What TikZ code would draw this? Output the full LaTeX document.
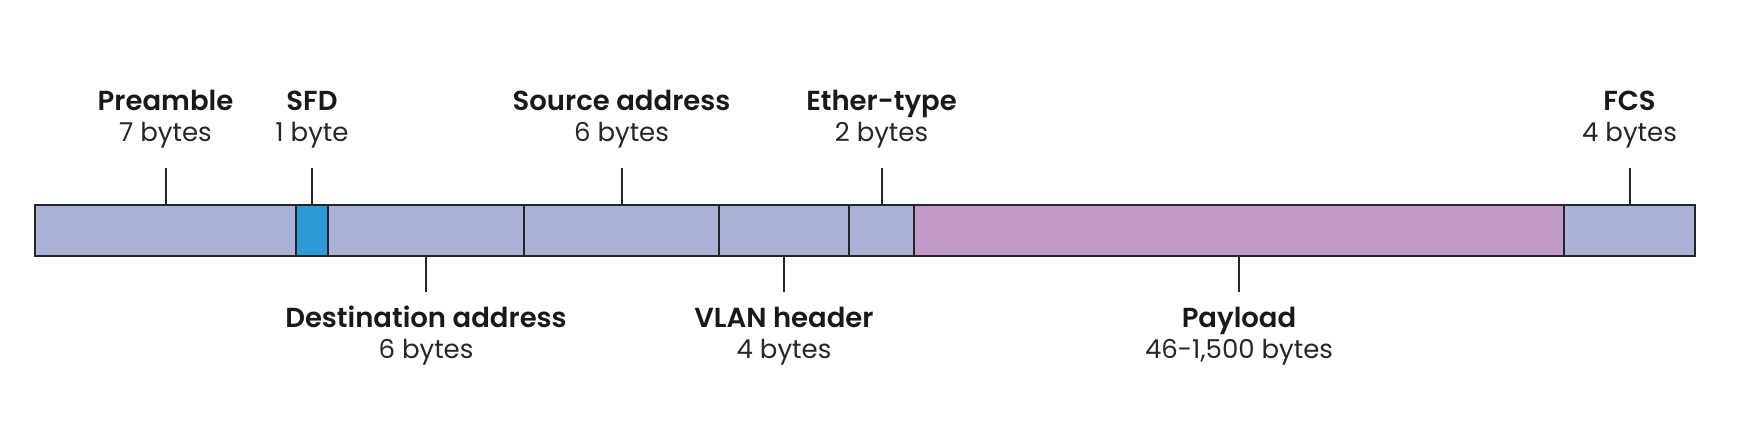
\documentclass[tikz,border=0pt]{standalone}
\usepackage{fontspec}
\setmainfont{Poppins}[BoldFont={Poppins SemiBold}]
\begin{document}
\begin{tikzpicture}[x=1pt,y=-1pt,
  seg/.style={draw=black!85, line width=2.6pt, minimum height=51pt, inner sep=0pt, anchor=west, outer sep=0pt},
  tick/.style={draw=black!85, line width=2pt},
  ttl/.style={font=\fontsize{27.5}{30}\selectfont\bfseries, anchor=base, inner sep=0pt, text=black!90},
  sub/.style={font=\fontsize{26}{28}\selectfont, anchor=base, inner sep=0pt, text=black!85}]
\definecolor{lav}{HTML}{ACB1D7}
\definecolor{sfdblue}{HTML}{2F9BD6}
\definecolor{pay}{HTML}{C29AC6}
\useasboundingbox (0,0) rectangle (1751,434);
% segments
\node[seg, fill=lav, minimum width=261pt] (pre) at (35,230.5) {};
\node[seg, fill=sfdblue, minimum width=32pt] (sfd) at (296,230.5) {};
\node[seg, fill=lav, minimum width=196pt] (dst) at (328,230.5) {};
\node[seg, fill=lav, minimum width=195pt] (src) at (524,230.5) {};
\node[seg, fill=lav, minimum width=130pt] (vlan) at (719,230.5) {};
\node[seg, fill=lav, minimum width=65pt] (eth) at (849,230.5) {};
\node[seg, fill=pay, minimum width=650pt] (pay) at (914,230.5) {};
\node[seg, fill=lav, minimum width=131pt] (fcs) at (1564,230.5) {};
% tick ends
\coordinate (preT) at (pre.north |- 0,168);
\coordinate (sfdT) at (sfd.north |- 0,168);
\coordinate (srcT) at (src.north |- 0,168);
\coordinate (ethT) at (eth.north |- 0,168);
\coordinate (fcsT) at (fcs.north |- 0,168);
\coordinate (dstT) at (dst.south |- 0,292);
\coordinate (vlanT) at (vlan.south |- 0,292);
\coordinate (payT) at (pay.south |- 0,292);
\draw[tick] (pre.north) -- (preT);
\draw[tick] (sfd.north) -- (sfdT);
\draw[tick] (src.north) -- (srcT);
\draw[tick] (eth.north) -- (ethT);
\draw[tick] (fcs.north) -- (fcsT);
\draw[tick] (dst.south) -- (dstT);
\draw[tick] (vlan.south) -- (vlanT);
\draw[tick] (pay.south) -- (payT);
% top labels
\node[ttl] (preA) at (pre.north |- 0,110) {Preamble};
\node[sub] (preB) at (pre.north |- 0,141) {7 bytes};
\node[ttl] (sfdA) at (sfd.north |- 0,110) {SFD};
\node[sub] (sfdB) at (sfd.north |- 0,141) {1 byte};
\node[ttl] (srcA) at (src.north |- 0,110) {Source address};
\node[sub] (srcB) at (src.north |- 0,141) {6 bytes};
\node[ttl] (ethA) at (eth.north |- 0,110) {Ether-type};
\node[sub] (ethB) at (eth.north |- 0,141) {2 bytes};
\node[ttl] (fcsA) at (fcs.north |- 0,110) {FCS};
\node[sub] (fcsB) at (fcs.north |- 0,141) {4 bytes};
% bottom labels
\node[ttl] (dstA) at (dst.south |- 0,327) {Destination address};
\node[sub] (dstB) at (dst.south |- 0,358) {6 bytes};
\node[ttl] (vlanA) at (vlan.south |- 0,327) {VLAN header};
\node[sub] (vlanB) at (vlan.south |- 0,358) {4 bytes};
\node[ttl] (payA) at (pay.south |- 0,327) {Payload};
\node[sub] (payB) at (pay.south |- 0,358) {46-1,500 bytes};
\end{tikzpicture}
\end{document}
